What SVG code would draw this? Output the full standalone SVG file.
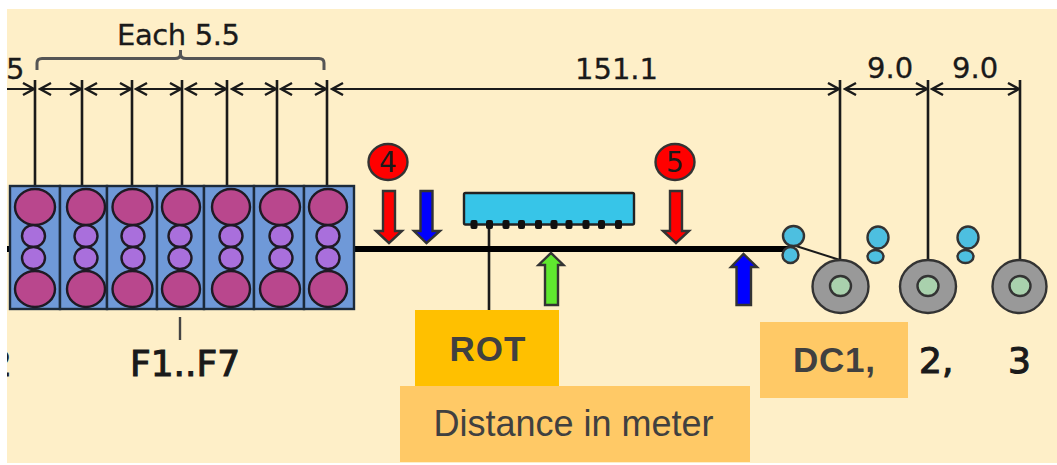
<svg xmlns="http://www.w3.org/2000/svg" width="1057" height="465" viewBox="0 0 1057 465">
<style>
text{font-family:"DejaVu Sans",Verdana,sans-serif;fill:#1a1a1a}
.dim{font-size:29px;stroke:#1a1a1a;stroke-width:.3}
.lab{font-size:36px;stroke:#1a1a1a;stroke-width:1.100}
.box{font-family:"Liberation Sans",Arial,sans-serif;font-size:35px;font-weight:bold;fill:#404040}
.s{fill:#6f99d8;stroke:#1c2a3a;stroke-width:2.4}
.b{fill:#b9478d;stroke:#1f1a24;stroke-width:2.4}
.m{fill:#a96fdc;stroke:#1f1a24;stroke-width:2.4}
.l{stroke:#1a1a1a;stroke-width:2.6;fill:none}
.t{stroke:#1a1a1a;stroke-width:2;fill:none}
.c{fill:#4dbfe0;stroke:#333;stroke-width:2.4}
.g{fill:#999;stroke:#333;stroke-width:2.4}
.h{fill:#a9d1ad;stroke:#333;stroke-width:2.4}
.a{stroke:#333;stroke-width:2.4}
.d{fill:#111}
</style>
<defs>
<marker id="e" markerWidth="14" markerHeight="16" refX="12" refY="7" orient="auto-start-reverse" markerUnits="userSpaceOnUse"><path d="M1 1L12 7L1 13" fill="none" stroke="#1a1a1a" stroke-width="2.4"/></marker>
<g id="stand"><ellipse class="m" cy="236" rx="11.500" ry="11"/><ellipse class="m" cy="258" rx="11.500" ry="11"/></g>
</defs>
<rect width="1057" height="465" fill="#fff"/>
<rect x="7" y="9" width="1050" height="454" fill="#feefc8"/>
<text class="lab" x="-11" y="376">2</text>
<rect x="0" y="0" width="7" height="465" fill="#fff"/>

<g id="connectors">
<path class="l" d="M35 80V186M82 80V186M132 80V186M182 80V186M227 80V186M277 80V186M327 80V186M840 80V260M928 80V260M1020 80V260"/>
<path class="t" marker-end="url(#e)" d="M7 89H34"/>
<path class="t" marker-start="url(#e)" marker-end="url(#e)" d="M40 89H81"/>
<path class="t" marker-start="url(#e)" marker-end="url(#e)" d="M86 89H131"/>
<path class="t" marker-start="url(#e)" marker-end="url(#e)" d="M136 89H181"/>
<path class="t" marker-start="url(#e)" marker-end="url(#e)" d="M186 89H226"/>
<path class="t" marker-start="url(#e)" marker-end="url(#e)" d="M232 89H276"/>
<path class="t" marker-start="url(#e)" marker-end="url(#e)" d="M281 89H326"/>
<path class="t" marker-start="url(#e)" marker-end="url(#e)" d="M332 89H839"/>
<path class="t" marker-start="url(#e)" marker-end="url(#e)" d="M845 89H927"/>
<path class="t" marker-start="url(#e)" marker-end="url(#e)" d="M932 89H1019"/>
<path fill="none" stroke="#555" stroke-width="3" d="M37 70V63Q37 58.500 42 58.500H175Q180.500 58.500 180.500 54V50M180.500 54Q180.500 58.500 186 58.500H319Q324 58.500 324 63V70"/>
<path stroke="#444" stroke-width="2.400" d="M180 317V340"/>
<path class="l" d="M489 226V310"/>
<path d="M355 249H793M7 249H10" stroke="#000" stroke-width="6"/>
<path class="t" d="M796 246L840 260"/>
</g>

<g id="stands">
<rect class="s" x="10" y="186" width="50" height="123"/>
<rect class="s" x="60" y="186" width="47" height="123"/>
<rect class="s" x="107" y="186" width="50" height="123"/>
<rect class="s" x="157" y="186" width="47" height="123"/>
<rect class="s" x="204" y="186" width="50" height="123"/>
<rect class="s" x="254" y="186" width="50" height="123"/>
<rect class="s" x="304" y="186" width="50" height="123"/>
<use href="#stand" x="33.500"/><ellipse class="b" cx="35" cy="207" rx="20" ry="18"/><ellipse class="b" cx="35" cy="289" rx="20" ry="18"/>
<use href="#stand" x="86"/><ellipse class="b" cx="86" cy="207" rx="19" ry="18"/><ellipse class="b" cx="86" cy="289" rx="19" ry="18"/>
<use href="#stand" x="133"/><ellipse class="b" cx="132.500" cy="207" rx="20" ry="18"/><ellipse class="b" cx="132.500" cy="289" rx="20" ry="18"/>
<use href="#stand" x="180"/><ellipse class="b" cx="181" cy="207" rx="19" ry="18"/><ellipse class="b" cx="181" cy="289" rx="19" ry="18"/>
<use href="#stand" x="231"/><ellipse class="b" cx="231" cy="207" rx="19" ry="18"/><ellipse class="b" cx="231" cy="289" rx="19" ry="18"/>
<use href="#stand" x="281"/><ellipse class="b" cx="280" cy="207" rx="20" ry="18"/><ellipse class="b" cx="280" cy="289" rx="20" ry="18"/>
<use href="#stand" x="328"/><ellipse class="b" cx="328" cy="207" rx="19" ry="18"/><ellipse class="b" cx="328" cy="289" rx="19" ry="18"/>
</g>

<g id="rot-header">
<rect x="464" y="193" width="170" height="31.500" rx="1.500" fill="#37c5e8" stroke="#222" stroke-width="2.400"/>
<g class="d"><rect x="470.500" y="220" width="7" height="9" rx="2"/><rect x="486" y="220" width="7" height="9" rx="2"/><rect x="502.500" y="220" width="7" height="9" rx="2"/><rect x="518" y="220" width="7" height="9" rx="2"/><rect x="535" y="220" width="7" height="9" rx="2"/><rect x="550.500" y="220" width="7" height="9" rx="2"/><rect x="565.500" y="220" width="7" height="9" rx="2"/><rect x="582.500" y="220" width="7" height="9" rx="2"/><rect x="598" y="220" width="7" height="9" rx="2"/><rect x="615" y="220" width="7" height="9" rx="2"/></g>
</g>

<g id="marker-4"><ellipse cx="388" cy="162" rx="19.500" ry="18" fill="#f00" stroke="#333" stroke-width="2.400"/><text x="388" y="172" font-size="28" text-anchor="middle">4</text></g>
<g id="marker-5"><ellipse cx="675" cy="162" rx="19.500" ry="18" fill="#f00" stroke="#333" stroke-width="2.400"/><text x="675" y="172" font-size="28" text-anchor="middle">5</text></g>

<g id="arrows">
<path class="a" fill="#f00" d="M383 191H395V231H402L389 243L376 231H383Z"/>
<path class="a" fill="#00f" d="M420.500 191H432.500V231H440L426.500 243L414 231H420.500Z"/>
<path class="a" fill="#f00" d="M670 191H682V231H689L676 243L663 231H670Z"/>
<path class="a" fill="#5fe82f" d="M545 305H558V265H563.500L551 253L538.500 265H545Z"/>
<path class="a" fill="#00f" d="M736.500 305H751V267H757L743.500 254L731 267H736.500Z"/>
</g>

<g id="coiler-rolls">
<ellipse class="c" cx="793.500" cy="236" rx="10.500" ry="10"/><ellipse class="c" cx="790.500" cy="255" rx="8" ry="8"/>
<ellipse class="c" cx="878" cy="237.500" rx="10.500" ry="11"/><ellipse class="c" cx="875.500" cy="256.500" rx="8" ry="6.500"/>
<ellipse class="c" cx="968" cy="237.500" rx="10.500" ry="11"/><ellipse class="c" cx="965.500" cy="256.500" rx="8" ry="6.500"/>
</g>
<g id="coiler-1"><ellipse class="g" cx="840.500" cy="286.500" rx="28" ry="26.500"/><ellipse class="h" cx="840.500" cy="286" rx="10.500" ry="10"/></g>
<g id="coiler-2"><ellipse class="g" cx="928" cy="286.500" rx="28" ry="26.500"/><ellipse class="h" cx="928" cy="286" rx="10.500" ry="10"/></g>
<g id="coiler-3"><ellipse class="g" cx="1019.500" cy="286.500" rx="27" ry="26.500"/><ellipse class="h" cx="1020" cy="286" rx="10.500" ry="10"/></g>

<g id="labels">
<text class="dim" x="117" y="45" textLength="123">Each 5.5</text>
<text class="dim" x="6" y="79">5</text>
<text class="dim" x="575" y="79">151.1</text>
<text class="dim" x="867" y="78">9.0</text>
<text class="dim" x="952" y="78">9.0</text>
<text class="lab" x="130" y="376">F1..F7</text>
<text class="lab" x="919" y="373">2,</text>
<text class="lab" x="1008" y="373">3</text>
</g>

<g id="rot-label"><rect x="415" y="310" width="144" height="76" fill="#ffc000"/><text class="box" x="487.500" y="361" text-anchor="middle" textLength="76">ROT</text></g>
<g id="dc1-label"><rect x="760" y="322" width="148" height="76" fill="#ffc966"/><text class="box" x="834" y="372" text-anchor="middle" textLength="82">DC1,</text></g>
<g id="distance-label"><rect x="400" y="386" width="350" height="76" fill="#ffc966"/><text x="573.500" y="436" font-size="36" text-anchor="middle" style="font-family:'Liberation Sans',Arial,sans-serif;fill:#404040">Distance in meter</text></g>
</svg>
